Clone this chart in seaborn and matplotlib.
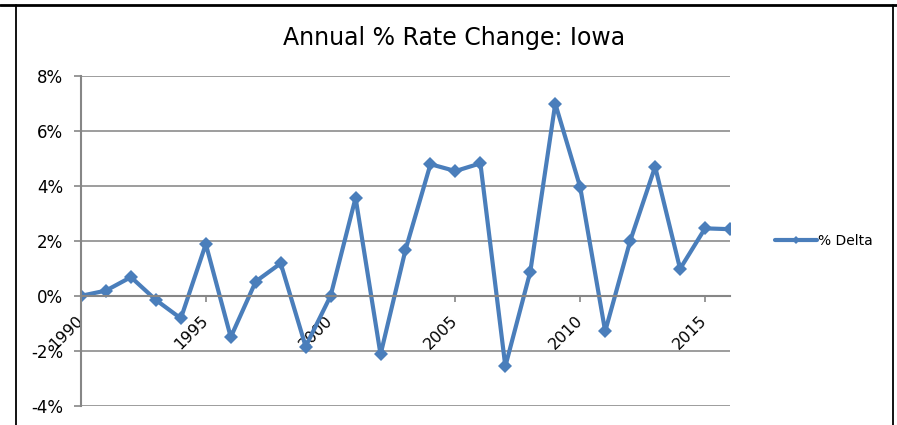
"""Annual % rate change for Iowa, drawn as an Excel-style line chart"""

from matplotlib import pyplot as plt
from matplotlib.lines import Line2D
from matplotlib.ticker import FuncFormatter, MultipleLocator
from matplotlib import transforms
import seaborn as sns
import pandas as pd

years = list(range(1990, 2017))
pct_delta = [0.00, 0.19, 0.68, -0.15, -0.82, 1.88, -1.50, 0.52, 1.18, -1.84,
             0.00, 3.56, -2.13, 1.67, 4.78, 4.53, 4.81, -2.56, 0.88, 6.98,
             3.94, -1.29, 1.99, 4.69, 0.98, 2.45, 2.42]
xtick_years = [1990, 1995, 2000, 2005, 2010, 2015]
title = 'Annual % Rate Change: Iowa'
series_name = '% Delta'

df = pd.DataFrame({'year': years, 'delta': pct_delta})

sns.set_style('white')
plt.rcParams['font.family'] = ['DejaVu Sans']
plt.rcParams['text.color'] = 'black'
plt.rcParams['xtick.labelcolor'] = 'black'
plt.rcParams['ytick.labelcolor'] = 'black'

fig = plt.figure(figsize=(8.97, 4.25), dpi=100)
ax = fig.add_axes([81 / 897, 19 / 425, (730 - 81) / 897, (406 - 75.5) / 425])

blue = '#4A7EBB'
sns.lineplot(data=df, x='year', y='delta', ax=ax, color=blue, linewidth=3,
             marker='D', markersize=7.5, markeredgewidth=0, label=series_name)

ax.set_xlim(1990, 2016)
ax.set_ylim(-4, 8)
ax.yaxis.set_major_locator(MultipleLocator(2))
ax.yaxis.set_major_formatter(FuncFormatter(lambda v, p: f'{v:.0f}%'))
ax.set_xticks(xtick_years)
ax.set_xticklabels([str(y) for y in xtick_years])
ax.set_xlabel('')
ax.set_ylabel('')

ax.grid(axis='y', color='#8C8C8C', linewidth=1.2)
ax.set_axisbelow(True)
for side in ['top', 'right']:
    ax.spines[side].set_visible(False)
ax.spines['left'].set_color('#868686')
ax.spines['left'].set_linewidth(1.5)
ax.spines['bottom'].set_color('#868686')
ax.spines['bottom'].set_linewidth(1.5)
ax.spines['bottom'].set_position(('data', 0))

ax.tick_params(axis='y', direction='out', length=5, width=1.2, color='#868686',
               labelsize=12, pad=8, left=True, labelcolor='black')
ax.tick_params(axis='x', direction='out', length=4, width=1.2, color='#868686',
               labelsize=11.5, pad=8, bottom=True, labelrotation=45, labelcolor='black')
shift = transforms.ScaledTranslation(5 / 100, 0, fig.dpi_scale_trans)
for lbl in ax.get_xticklabels():
    lbl.set_horizontalalignment('right')
    lbl.set_verticalalignment('top')
    lbl.set_transform(lbl.get_transform() + shift)

leg = ax.legend(loc='center left', bbox_to_anchor=(1.05, 0.5), frameon=False,
                fontsize=10, handlelength=3, handletextpad=0.1, markerscale=0.6)
for txt in leg.get_texts():
    txt.set_color('black')

fig.text(454.5 / 897, 1 - 38 / 425, title, ha='center', va='center', fontsize=17,
         color='black')

# chart frame lines (top, left, right)
fig.add_artist(Line2D([0, 1], [1 - 5 / 425] * 2, transform=fig.transFigure,
                      color='black', linewidth=2))
fig.add_artist(Line2D([16 / 897] * 2, [0, 1 - 5 / 425], transform=fig.transFigure,
                      color='black', linewidth=1.3))
fig.add_artist(Line2D([893 / 897] * 2, [0, 1 - 5 / 425], transform=fig.transFigure,
                      color='black', linewidth=1.3))

fig.savefig('out.png', dpi=100)
